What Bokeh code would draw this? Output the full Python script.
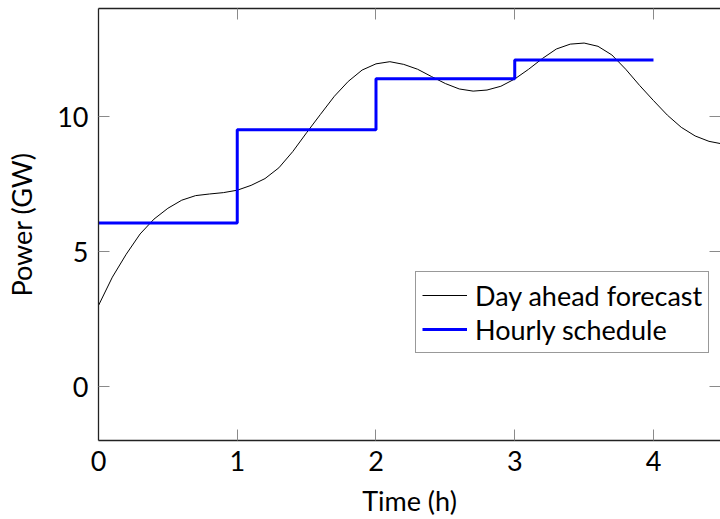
from bokeh.plotting import figure
from bokeh.models import LinearAxis, Legend, LegendItem, Range1d, FixedTicker, CustomLabelingPolicy
from bokeh.embed import file_html
from bokeh.resources import INLINE

# Day ahead forecast (every 0.1 h)
forecast_t = [0.0, 0.1, 0.2, 0.3, 0.4, 0.5, 0.6, 0.7, 0.8, 0.9,
              1.0, 1.1, 1.2, 1.3, 1.4, 1.5, 1.6, 1.7, 1.8, 1.9,
              2.0, 2.1, 2.2, 2.3, 2.4, 2.5, 2.6, 2.7, 2.8, 2.9,
              3.0, 3.1, 3.2, 3.3, 3.4, 3.5, 3.6, 3.7, 3.8, 3.9,
              4.0, 4.1, 4.2, 4.3, 4.4, 4.5]
forecast_p = [3.0, 4.05, 4.9, 5.65, 6.2, 6.6, 6.9, 7.07, 7.13, 7.18,
              7.27, 7.45, 7.7, 8.1, 8.7, 9.4, 10.08, 10.75, 11.3, 11.72,
              11.95, 12.03, 11.93, 11.75, 11.48, 11.22, 11.02, 10.94, 10.98, 11.12,
              11.39, 11.75, 12.15, 12.5, 12.68, 12.72, 12.6, 12.28, 11.75, 11.15,
              10.59, 10.05, 9.6, 9.28, 9.08, 8.98]

# Hourly schedule
schedule_t = [0, 1, 2, 3, 4]
schedule_p = [6.06, 9.51, 11.40, 12.09, 12.09]

x_ticks = [0, 1, 2, 3, 4]
y_ticks = [0, 5, 10]

FONT = "Lato"
FS = "27px"
TICK_C = "#8a8a8a"
AX_C = "#222222"

p = figure(width=720, height=519, output_backend="svg", toolbar_location=None,
           x_range=Range1d(0, 4.483), y_range=Range1d(-2, 14),
           min_border_left=98, min_border_right=0, min_border_top=8, min_border_bottom=78,
           x_axis_label="Time (h)", y_axis_label="Power (GW)")
p.grid.visible = False
p.outline_line_color = None
p.background_fill_color = "white"
p.border_fill_color = "white"

for ax in [p.xaxis[0], p.yaxis[0]]:
    ax.axis_line_color = AX_C
    ax.axis_line_width = 1.3
    ax.major_tick_line_color = TICK_C
    ax.major_tick_in = 11
    ax.major_tick_out = 0
    ax.minor_tick_line_color = None
    ax.major_label_text_font = FONT
    ax.major_label_text_font_size = FS
    ax.major_label_text_color = "black"
    ax.axis_label_text_font = FONT
    ax.axis_label_text_font_size = FS
    ax.axis_label_text_font_style = "normal"
    ax.axis_label_text_color = "black"
    ax.major_label_standoff = 10

p.xaxis[0].ticker = FixedTicker(ticks=x_ticks)
p.yaxis[0].ticker = FixedTicker(ticks=y_ticks)
p.xaxis[0].axis_label_standoff = 10
p.yaxis[0].axis_label_standoff = 16

no_labels = CustomLabelingPolicy(code="return []")
top = LinearAxis(ticker=FixedTicker(ticks=x_ticks), axis_line_color=AX_C, axis_line_width=1.3,
                 major_tick_line_color=TICK_C, major_tick_in=11, major_tick_out=0,
                 minor_tick_line_color=None, major_label_text_font_size="0px",
                 major_label_standoff=0, major_label_policy=no_labels)
right = LinearAxis(ticker=FixedTicker(ticks=y_ticks), axis_line_color=None,
                   major_tick_line_color=TICK_C, major_tick_in=11, major_tick_out=0,
                   minor_tick_line_color=None, major_label_text_font_size="0px",
                   major_label_standoff=0, major_label_policy=no_labels)
p.add_layout(top, "above")
p.add_layout(right, "right")

r1 = p.line(forecast_t, forecast_p, line_color="black", line_width=1)
r2 = p.step(schedule_t, schedule_p, mode="after", line_color="#0000ff", line_width=3)

legend = Legend(items=[LegendItem(label="Day ahead forecast", renderers=[r1]),
                       LegendItem(label="Hourly schedule", renderers=[r2])],
                location=(317, 87), orientation="vertical")
legend.label_text_font = FONT
legend.label_text_font_size = FS
legend.label_text_color = "black"
legend.border_line_color = "#333333"
legend.border_line_width = 1
legend.background_fill_alpha = 1
legend.padding = 6
legend.margin = 0
legend.spacing = 0
legend.glyph_width = 45
legend.glyph_height = 34
legend.label_height = 34
legend.label_standoff = 8
p.add_layout(legend, "center")

open("out.html", "w").write(file_html(p, INLINE))
